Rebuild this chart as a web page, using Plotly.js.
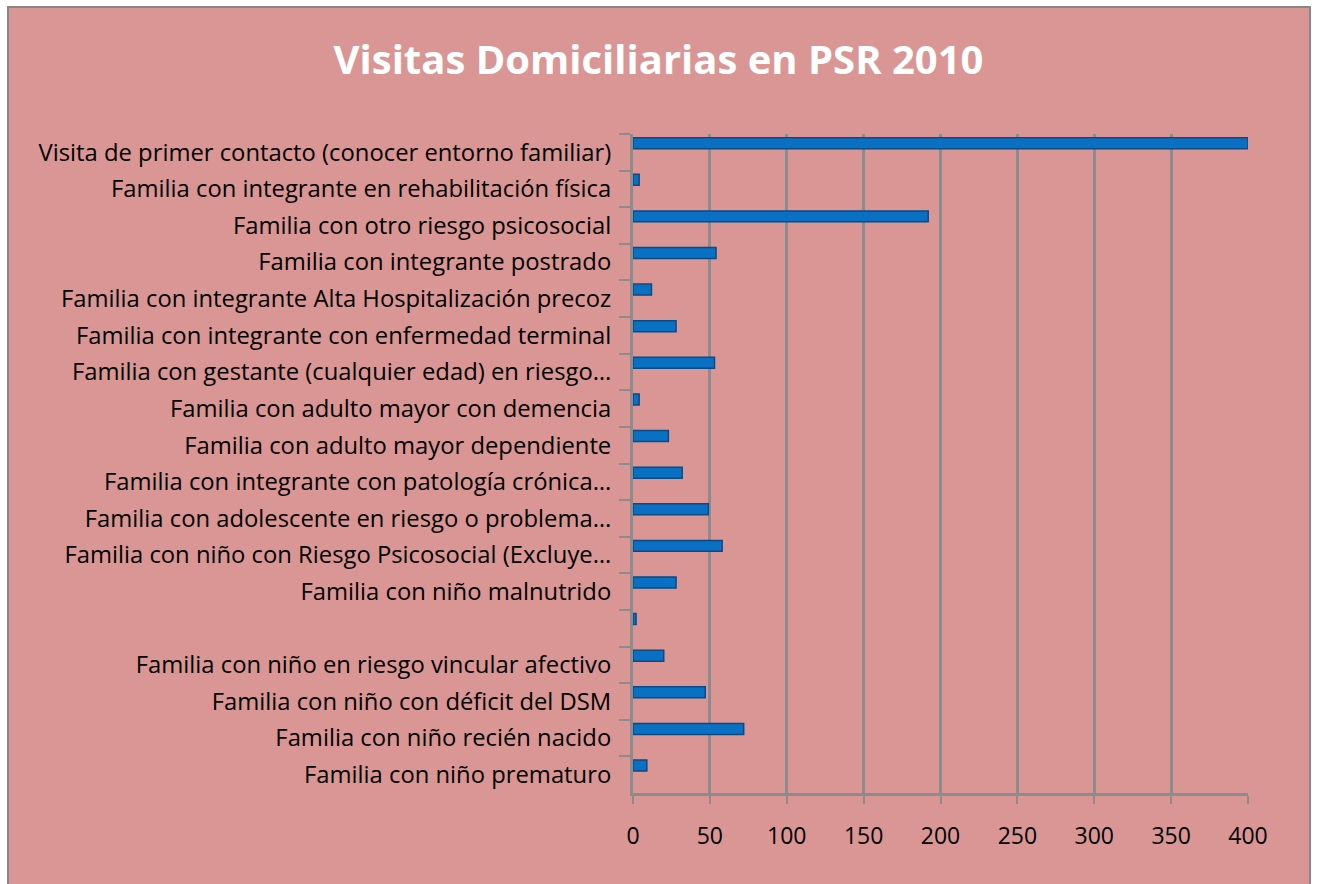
<!DOCTYPE html>
<html>
<head>
<meta charset="utf-8">
<script src="https://cdn.plot.ly/plotly-3.0.1.min.js"></script>
<style>
html,body{margin:0;padding:0;background:#ffffff;}
#frame{position:absolute;left:7px;top:6px;width:1304px;height:878px;border:2px solid #878787;border-bottom:none;box-sizing:border-box;background:#D99694;overflow:hidden;}
#chart{position:absolute;left:-9px;top:-8px;width:1317px;height:884px;}
</style>
</head>
<body>
<div id="frame"><div id="chart"></div></div>
<script>
const categories = [
  "Visita de primer contacto (conocer entorno familiar)",
  "Familia con integrante en rehabilitación física",
  "Familia con otro riesgo psicosocial",
  "Familia con integrante postrado",
  "Familia con integrante Alta Hospitalización precoz",
  "Familia con integrante con enfermedad terminal",
  "Familia con gestante (cualquier edad) en riesgo…",
  "Familia con adulto mayor con demencia",
  "Familia con adulto mayor dependiente",
  "Familia con integrante con patología crónica…",
  "Familia con adolescente en riesgo o problema…",
  "Familia con niño con Riesgo Psicosocial (Excluye…",
  "Familia con niño malnutrido",
  " ",
  "Familia con niño en riesgo vincular afectivo",
  "Familia con niño con déficit del DSM",
  "Familia con niño recién nacido",
  "Familia con niño prematuro"
];
const visitas = [400, 4, 192, 54, 12, 28, 53, 4, 23, 32, 49, 58, 28, 2, 20, 47, 72, 9];
const xTicks = [0, 50, 100, 150, 200, 250, 300, 350, 400];

const font = "'Open Sans', 'Noto Sans', sans-serif";

const trace = {
  type: "bar",
  orientation: "h",
  y: categories,
  x: visitas,
  width: 0.3,
  offset: -0.4,
  marker: {color: "#0A70C4", line: {color: "#0A4A85", width: 1.5}},
  hoverinfo: "x+y"
};

const layout = {
  width: 1317, height: 884,
  paper_bgcolor: "rgba(0,0,0,0)",
  plot_bgcolor: "rgba(0,0,0,0)",
  margin: {l: 633, r: 69, t: 134, b: 91},
  showlegend: false,
  title: {
    text: "<b>Visitas Domiciliarias en PSR 2010</b>",
    font: {family: font, size: 40, color: "#ffffff"},
    x: 0.5, xref: "container", xanchor: "center",
    y: 0.932, yref: "container", yanchor: "middle"
  },
  xaxis: {
    range: [0, 400],
    tickvals: xTicks,
    ticktext: xTicks.map(String),
    showgrid: true, gridcolor: "#8C8C8C", gridwidth: 3,
    zeroline: false,
    showline: true, linecolor: "#8C8C8C", linewidth: 3,
    ticks: "outside", ticklen: 8, tickwidth: 2, tickcolor: "#8C8C8C",
    ticklabelstandoff: 12,
    tickfont: {family: font, size: 23, color: "#000000"}
  },
  yaxis: {
    type: "category",
    autorange: "reversed",
    showgrid: false,
    showline: true, linecolor: "#8C8C8C", linewidth: 3,
    ticks: "outside", ticklen: 11, tickwidth: 2, tickcolor: "#8C8C8C",
    tickson: "boundaries",
    ticklabelstandoff: 14,
    tickfont: {family: font, size: 23.8, color: "#000000"}
  }
};

Plotly.newPlot("chart", [trace], layout, {displayModeBar: false});
</script>
</body>
</html>
